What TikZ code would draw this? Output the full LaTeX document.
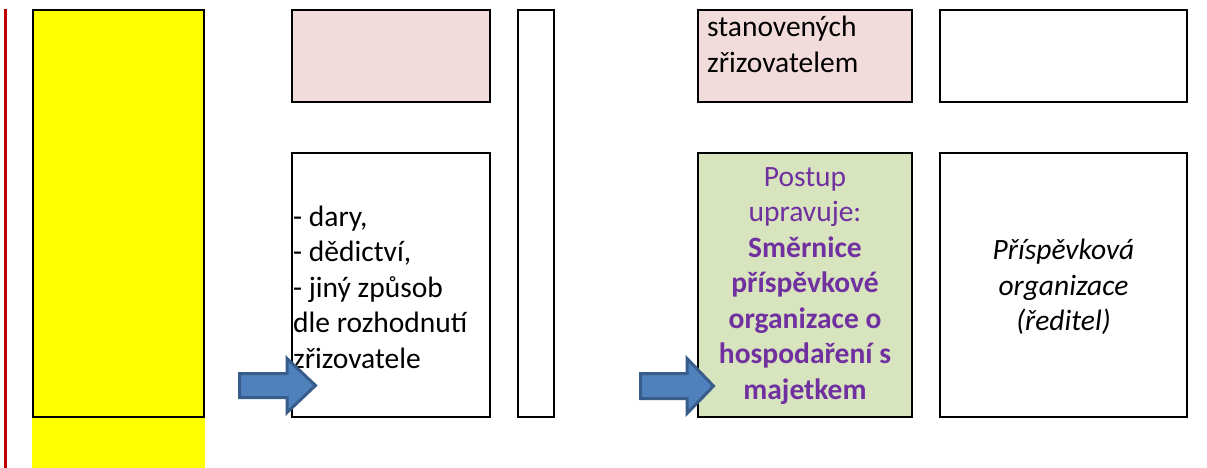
\documentclass[tikz,border=0pt]{standalone}
\usepackage{fontspec}
\setmainfont{Carlito}
\definecolor{redline}{HTML}{C00000}
\definecolor{pinkfill}{HTML}{F2DCDB}
\definecolor{greenfill}{HTML}{D7E4BD}
\definecolor{purpletext}{HTML}{7030A0}
\definecolor{arrowfill}{HTML}{4F81BD}
\definecolor{arrowline}{HTML}{385D8A}
\definecolor{yellowfill}{HTML}{FFFF00}
\tikzset{
  box/.style={draw=black, line width=2.4pt, inner sep=0pt},
  txt/.style={font=\fontsize{29.5}{35.5}\selectfont, inner sep=0pt},
  blockarrow/.style={fill=arrowfill, draw=arrowline, line width=3pt, line join=miter}
}
\begin{document}
\begin{tikzpicture}[x=1pt, y=-1pt]
\useasboundingbox (0,0) rectangle (1207,468);
% red vertical line
\coordinate (rtop) at (5.5,9);
\coordinate (rbot) at (5.5,468);
\draw[redline, line width=3.5pt] (rtop) -- (rbot);
% yellow column
\node[fill=yellowfill, inner sep=0pt, minimum width=173pt, minimum height=60pt] (yext) at (118.5,438) {};
\node[box, fill=yellowfill, minimum width=171pt, minimum height=407pt] (yellow) at (118.5,213.5) {};
% boxes
\node[box, fill=pinkfill, minimum width=198pt, minimum height=92pt] (pinkA) at (391,56) {};
\node[box, minimum width=198pt, minimum height=264pt] (dary) at (391,285) {};
\node[box, minimum width=36pt, minimum height=407pt] (narrow) at (536,213.5) {};
\node[box, fill=pinkfill, minimum width=214pt, minimum height=92pt] (pinkB) at (805,56) {};
\node[box, minimum width=247pt, minimum height=92pt] (topright) at (1063.5,56) {};
\node[box, fill=greenfill, minimum width=214pt, minimum height=264pt] (green) at (805,285) {};
\node[box, minimum width=247pt, minimum height=264pt] (botright) at (1063.5,285) {};
% texts
\node[txt, anchor=north west, align=left] (tstan) at (707,16) {stanovených\\zřizovatelem};
\node[txt, anchor=west, align=left] (tdary) at (293,287) {- dary,\\- dědictví,\\- jiný způsob\\dle rozhodnutí\\zřizovatele};
\node[txt, align=center, text=purpletext] (tgreen) at (805,286) {Postup\\upravuje:\\\textbf{Směrnice}\\\textbf{příspěvkové}\\\textbf{organizace o}\\\textbf{hospodaření s}\\\textbf{majetkem}};
\node[txt, align=center, font=\fontsize{29.5}{35.5}\selectfont\itshape] (tpo) at (1063.5,287) {Příspěvková\\organizace\\(ředitel)};
% block arrows
\draw[blockarrow] (239.5,373.5) -- (287,373.5) -- (287,358.5) -- (315.5,385.5) -- (287,412.5) -- (287,397.5) -- (239.5,397.5) -- cycle;
\draw[blockarrow] (640.5,373.5) -- (687,373.5) -- (687,358.5) -- (713.5,386) -- (687,413.5) -- (687,398.5) -- (640.5,398.5) -- cycle;
\end{tikzpicture}
\end{document}
